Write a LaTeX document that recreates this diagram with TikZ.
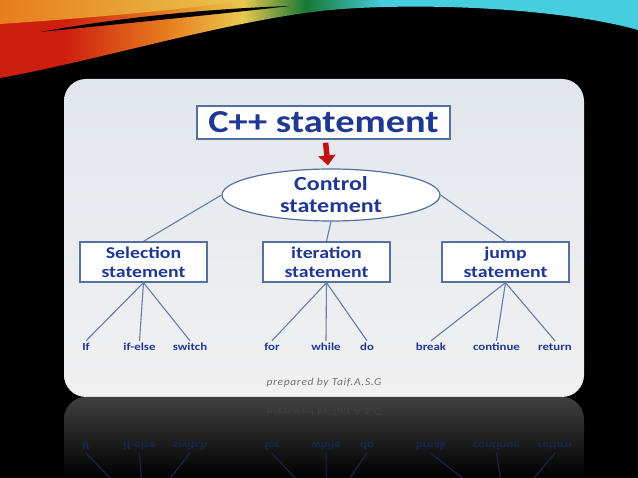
\documentclass[tikz,border=0pt]{standalone}
\usepackage{fontspec}
\usetikzlibrary{shapes.geometric,arrows.meta}
\newfontfamily\diagfont{Carlito}[FakeStretch=1.2]
\newfontfamily\signfont{Carlito}[LetterSpace=6,FakeStretch=1.1]
\definecolor{navy}{RGB}{31,56,147}
\definecolor{steel}{RGB}{84,112,160}
\definecolor{darkred}{RGB}{192,16,16}
\colorlet{label text}{navy}
\colorlet{box edge}{steel}
\colorlet{tree line}{steel!90!white}
\colorlet{panel top}{rgb,255:red,226;green,231;blue,237}
\colorlet{panel bottom}{rgb,255:red,241;green,241;blue,241}
\colorlet{mirror top}{rgb,255:red,64;green,64;blue,64}
\colorlet{mirror text}{rgb,255:red,26;green,36;blue,78}
\colorlet{sw red}{rgb,255:red,205;green,30;blue,14}
\colorlet{sw orange}{rgb,255:red,232;green,124;blue,30}
\colorlet{sw yellow}{rgb,255:red,232;green,200;blue,80}
\colorlet{sw green}{rgb,255:red,22;green,120;blue,50}
\colorlet{sw cyan}{rgb,255:red,70;green,205;blue,222}
\pgfdeclarehorizontalshading{swoosh}{100bp}{color(0bp)=(sw red); color(30bp)=(sw red);
  color(38bp)=(sw orange); color(44bp)=(sw yellow); color(49bp)=(sw green);
  color(55bp)=(sw cyan); color(100bp)=(sw cyan)}
\tikzset{headbox/.style={draw=box edge, line width=1.5pt, fill=white, text=label text,
      font=\diagfont\bfseries\fontsize{32}{36}\selectfont,
      minimum width=253, minimum height=33, inner sep=0pt},
    ctrlnode/.style={ellipse, draw=box edge, line width=1.2pt, fill=white, text=label text,
      align=center, font=\diagfont\bfseries\fontsize{20}{22}\selectfont,
      minimum width=218, minimum height=52, inner sep=0pt},
    kindbox/.style={draw=box edge, line width=1.3pt, fill=white, text=label text,
      align=center, font=\diagfont\bfseries\fontsize{16.5}{19}\selectfont,
      minimum width=127, minimum height=40, inner sep=0pt},
    leaf/.style={text=label text, font=\diagfont\bfseries\fontsize{10.7}{12}\selectfont,
      text height=8pt, text depth=2pt, inner sep=2pt},
    link/.style={draw=tree line, line width=1.1pt},
    redarrow/.style={draw=darkred, line width=5.5pt, -{Triangle[width=17pt,length=10pt]},
      shorten <=3pt, shorten >=3pt}}
% name/text/x/parent
\def\leaflist{if/If/86/sel, ifelse/if-else/139.5/sel, switch/switch/190/sel,
  for/for/272/iter, while/while/326/iter, do/do/367/iter,
  break/break/431/jump, continue/continue/496.5/jump, return/return/555/jump}
\def\sign{prepared by Taif.A.S.G}
\begin{document}
\begin{tikzpicture}[x=1pt, y=-1pt]
    \useasboundingbox[fill=black] (0,0) rectangle (638,478);
    % swoosh on top
    \shade[shading=swoosh] (0,0) -- (638,0) -- (638,30)
        .. controls (560,8) and (420,2) .. (330,10)
        .. controls (230,20) and (100,60) .. (0,78) -- cycle;
    \shade[left color=sw orange, right color=sw yellow] (0,0) -- (250,0)
        .. controls (180,10) and (90,18) .. (0,24) -- cycle;
    \fill[black] (40,32) .. controls (140,14) and (230,8) .. (290,6)
        .. controls (230,13) and (140,22) .. (40,32);
    % panel and its mirror
    \shade[top color=panel top, bottom color=panel bottom, rounded corners=22]
        (64,79) rectangle (584,397);
    \shade[top color=mirror top, bottom color=black] (64,478) [rounded corners=22]
        -- (64,397) -- (584,397) [sharp corners] -- (584,478) -- cycle;
    % tree
    \node[headbox] (cpp) at (323.5,122.5) {C++ statement};
    \node[ctrlnode] (ctrl) at (331,195) {Control\\statement};
    \draw[redarrow] (cpp) -- (ctrl);
    \node[kindbox] (sel) at (143.5,262) {Selection\\statement};
    \node[kindbox] (iter) at (326.5,262) {iteration\\statement};
    \node[kindbox] (jump) at (505.5,262) {jump\\statement};
    \draw[link] (ctrl.west) -- (sel.north);
    \draw[link] (ctrl.south) -- (iter.north);
    \draw[link] (ctrl.east) -- (jump.north);
    \foreach \nm/\txt/\x/\p in \leaflist {
        \node[leaf] (\nm) at (\x,348) {\txt};
        \draw[link] (\p.south) -- (\nm.north);
    }
    \node[text=black!55, font=\signfont\itshape\fontsize{10.5}{12}\selectfont] (sign)
        at (324,383) {\sign};
    % mirror of the lower part
    \begin{scope}[shift={(0,794)}, yscale=-1, transform shape]
        \clip (64,316) rectangle (584,397);
        \coordinate (m-sel) at (143.5,282);
        \coordinate (m-iter) at (326.5,282);
        \coordinate (m-jump) at (505.5,282);
        \foreach \nm/\txt/\x/\p in \leaflist {
            \node[leaf, text=mirror text] (m-\nm) at (\x,348) {\txt};
            \draw[link, draw=mirror text] (m-\p) -- (m-\nm.north);
        }
        \node[text=black!75, font=\signfont\itshape\fontsize{10.5}{12}\selectfont] (m-sign)
            at (324,383) {\sign};
    \end{scope}
\end{tikzpicture}
\end{document}
